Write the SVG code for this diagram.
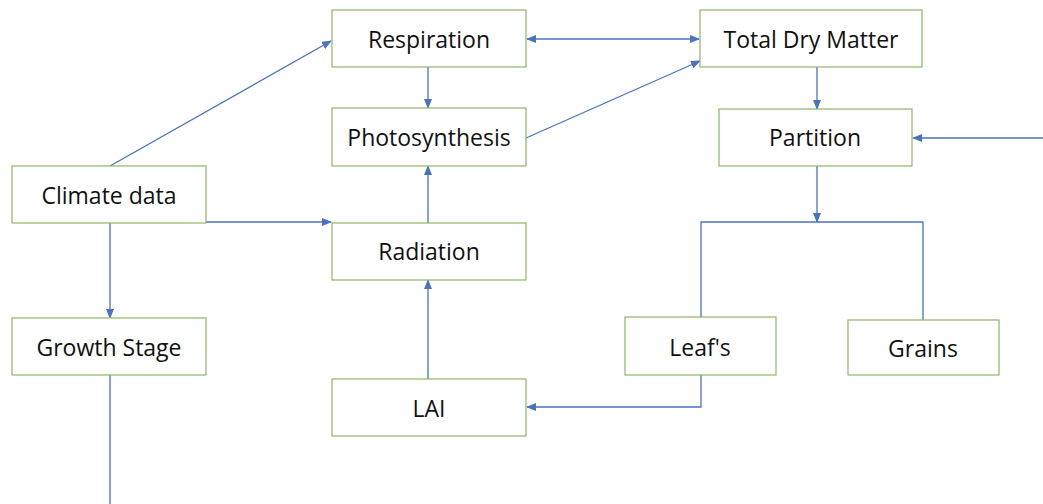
<svg xmlns="http://www.w3.org/2000/svg" width="1043" height="504" viewBox="0 0 1043 504">
<style>
.box{fill:#fff;stroke:#8fb464;stroke-width:1.2}
.lbl{font-family:"Open Sans","Liberation Sans",sans-serif;font-size:23px;fill:#111;text-anchor:middle;dominant-baseline:central}
.ln{fill:none;stroke:#4a72c0;stroke-width:1.3}
</style>
<defs>
<marker id="ah" markerWidth="10" markerHeight="8" refX="9" refY="4" orient="auto" markerUnits="userSpaceOnUse">
<path d="M0,0 L10,4 L0,8 z" fill="#4a72c0"/>
</marker>
<marker id="as" markerWidth="10" markerHeight="8" refX="1" refY="4" orient="auto" markerUnits="userSpaceOnUse">
<path d="M10,0 L0,4 L10,8 z" fill="#4a72c0"/>
</marker>
</defs>
<rect width="1043" height="504" fill="#fff"/>
<g id="connectors">
<line class="ln" x1="110" y1="166" x2="331" y2="41" marker-end="url(#ah)"/>
<line class="ln" x1="527" y1="39" x2="699" y2="39" marker-start="url(#as)" marker-end="url(#ah)"/>
<line class="ln" x1="428" y1="67" x2="428" y2="108" marker-end="url(#ah)"/>
<line class="ln" x1="526" y1="138" x2="700" y2="61" marker-end="url(#ah)"/>
<line class="ln" x1="206" y1="222" x2="331" y2="222" marker-end="url(#ah)"/>
<line class="ln" x1="110" y1="223" x2="110" y2="318" marker-end="url(#ah)"/>
<line class="ln" x1="428" y1="223" x2="428" y2="166" marker-end="url(#ah)"/>
<line class="ln" x1="428" y1="379" x2="428" y2="280" marker-end="url(#ah)"/>
<line class="ln" x1="817" y1="67" x2="817" y2="109" marker-end="url(#ah)"/>
<line class="ln" x1="817" y1="166" x2="817" y2="222" marker-end="url(#ah)"/>
<polyline class="ln" points="701,317 701,222 923,222 923,320"/>
<polyline class="ln" points="701,375 701,407 527,407" marker-end="url(#ah)"/>
<line class="ln" x1="1043" y1="138" x2="913" y2="138" marker-end="url(#ah)"/>
<line class="ln" x1="110" y1="375" x2="110" y2="504"/>
</g>
<g id="respiration"><rect class="box" x="332" y="10" width="194" height="57"/><text class="lbl" x="429" y="39">Respiration</text></g>
<g id="total-dry-matter"><rect class="box" x="700" y="10" width="222" height="57"/><text class="lbl" x="811" y="39">Total Dry Matter</text></g>
<g id="photosynthesis"><rect class="box" x="332" y="108" width="194" height="58"/><text class="lbl" x="429" y="137">Photosynthesis</text></g>
<g id="partition"><rect class="box" x="719" y="109" width="193" height="57"/><text class="lbl" x="815" y="137">Partition</text></g>
<g id="climate-data"><rect class="box" x="12" y="166" width="194" height="57"/><text class="lbl" x="109" y="195">Climate data</text></g>
<g id="radiation"><rect class="box" x="332" y="223" width="194" height="57"/><text class="lbl" x="429" y="251">Radiation</text></g>
<g id="growth-stage"><rect class="box" x="12" y="318" width="194" height="57"/><text class="lbl" x="109" y="347">Growth Stage</text></g>
<g id="lai"><rect class="box" x="332" y="379" width="194" height="57"/><text class="lbl" x="429" y="408">LAI</text></g>
<g id="leafs"><rect class="box" x="625" y="317" width="151" height="58"/><text class="lbl" x="700" y="347">Leaf's</text></g>
<g id="grains"><rect class="box" x="848" y="320" width="151" height="55"/><text class="lbl" x="923" y="348">Grains</text></g>
</svg>
